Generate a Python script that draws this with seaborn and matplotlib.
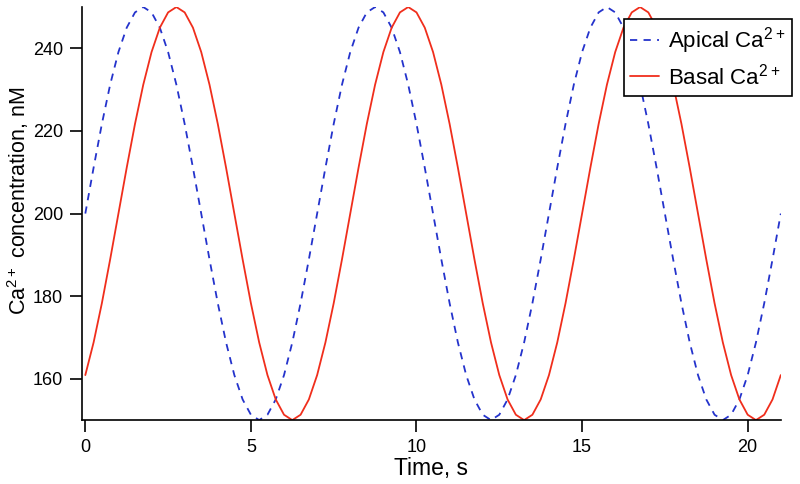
import numpy as np
import pandas as pd
import matplotlib
matplotlib.use('Agg')
import matplotlib.pyplot as plt
import seaborn as sns

time = np.arange(0, 21.01, 0.25)
apical = [200, 211.1, 221.7, 231.2, 239.1, 245.0, 248.7, 250, 248.7, 245.0, 239.1, 231.2, 221.7, 211.1,
          200, 188.9, 178.3, 168.8, 160.9, 155.0, 151.3, 150, 151.3, 155.0, 160.9, 168.8, 178.3, 188.9,
          200, 211.1, 221.7, 231.2, 239.1, 245.0, 248.7, 250, 248.7, 245.0, 239.1, 231.2, 221.7, 211.1,
          200, 188.9, 178.3, 168.8, 160.9, 155.0, 151.3, 150, 151.3, 155.0, 160.9, 168.8, 178.3, 188.9,
          200, 211.1, 221.7, 231.2, 239.1, 245.0, 248.7, 250, 248.7, 245.0, 239.1, 231.2, 221.7, 211.1,
          200, 188.9, 178.3, 168.8, 160.9, 155.0, 151.3, 150, 151.3, 155.0, 160.9, 168.8, 178.3, 188.9,
          200]
basal = [160.9, 168.8, 178.3, 188.9, 200, 211.1, 221.7, 231.2, 239.1, 245.0, 248.7, 250, 248.7, 245.0,
         239.1, 231.2, 221.7, 211.1, 200, 188.9, 178.3, 168.8, 160.9, 155.0, 151.3, 150, 151.3, 155.0,
         160.9, 168.8, 178.3, 188.9, 200, 211.1, 221.7, 231.2, 239.1, 245.0, 248.7, 250, 248.7, 245.0,
         239.1, 231.2, 221.7, 211.1, 200, 188.9, 178.3, 168.8, 160.9, 155.0, 151.3, 150, 151.3, 155.0,
         160.9, 168.8, 178.3, 188.9, 200, 211.1, 221.7, 231.2, 239.1, 245.0, 248.7, 250, 248.7, 245.0,
         239.1, 231.2, 221.7, 211.1, 200, 188.9, 178.3, 168.8, 160.9, 155.0, 151.3, 150, 151.3, 155.0,
         160.9]

df = pd.DataFrame({'time': time, 'apical': apical, 'basal': basal})

sns.set_style('ticks')
plt.rcParams['font.family'] = ['Liberation Sans', 'DejaVu Sans']
plt.rcParams['mathtext.default'] = 'regular'
plt.rcParams['text.color'] = 'black'
plt.rcParams['axes.labelcolor'] = 'black'

fig = plt.figure(figsize=(8, 4.84), dpi=100)
ax = fig.add_axes([0.1025, 0.132, 0.8735, 0.8535])

sns.lineplot(data=df, x='time', y='apical', color='#2433cc', linestyle=(0, (4, 3.5)), lw=1.3,
             label='Apical Ca$^{2+}$', ax=ax)
sns.lineplot(data=df, x='time', y='basal', color='#f02e1c', lw=1.3,
             label='Basal Ca$^{2+}$', ax=ax)

ax.set_xlim(-0.1, 21)
ax.set_ylim(150, 250)
ax.set_xticks([0, 5, 10, 15, 20])
ax.set_yticks([160, 180, 200, 220, 240])
ax.tick_params(direction='out', length=8.5, width=1.2, pad=5, labelsize=13, colors='black')
for s in ['left', 'bottom']:
    ax.spines[s].set_linewidth(1.2)
    ax.spines[s].set_color('black')
sns.despine(ax=ax)

ax.set_xlabel('Time, s', fontsize=16.5, labelpad=1)
ax.set_ylabel('Ca$^{2+}$ concentration, nM', fontsize=15.5)
ax.yaxis.set_label_coords(-0.073, 0.53)

leg = ax.legend(loc='upper right', bbox_to_anchor=(0.99, 0.961), bbox_transform=fig.transFigure,
                fancybox=False, fontsize=16, handlelength=1.3, handletextpad=0.4,
                labelspacing=0.3, borderpad=0.3, borderaxespad=0, framealpha=1,
                labelcolor='black')
leg.get_frame().set_edgecolor('black')
leg.get_frame().set_linewidth(1.2)

fig.savefig('out.png', dpi=100)
